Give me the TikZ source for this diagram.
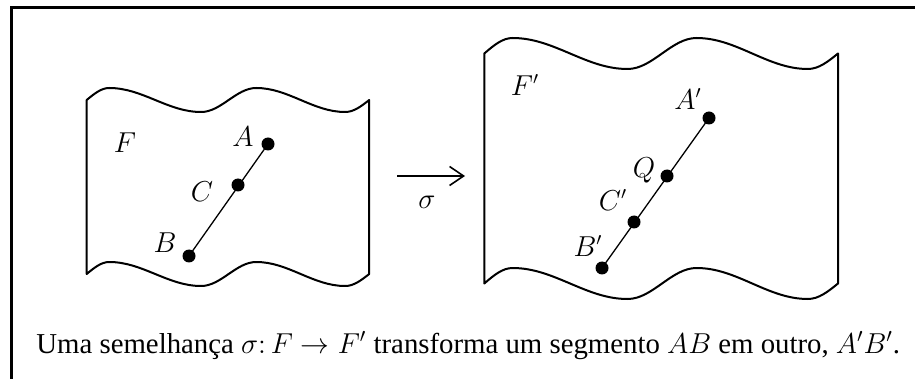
\documentclass[tikz,border=0pt]{standalone}
\usepackage{fontspec}
\setmainfont{Liberation Serif}
\usetikzlibrary{arrows.meta}

% wavy sheet: x0, width, y of top edge, y of bottom edge, amplitude
\newcommand\wavysheet[5]{%
  \draw[sheet] ({#1},{#3})
    sin ({#1+0.08*#2},{#3-#5}) cos ({#1+0.2425*#2},{#3})
    sin ({#1+0.405*#2},{#3+#5}) cos ({#1+0.5025*#2},{#3})
    sin ({#1+0.60*#2},{#3-#5}) cos ({#1+0.7575*#2},{#3})
    sin ({#1+0.915*#2},{#3+#5}) cos ({#1+#2},{#3})
    -- ({#1+#2},{#4})
    sin ({#1+0.915*#2},{#4+#5}) cos ({#1+0.7575*#2},{#4})
    sin ({#1+0.60*#2},{#4-#5}) cos ({#1+0.5025*#2},{#4})
    sin ({#1+0.405*#2},{#4+#5}) cos ({#1+0.2425*#2},{#4})
    sin ({#1+0.08*#2},{#4-#5}) cos ({#1},{#4})
    -- cycle;}

\begin{document}
\begin{tikzpicture}[
    x=0.5pt, y=-0.5pt,
    sheet/.style={line width=1pt, line join=round},
    dot/.style={circle, fill=black, inner sep=0pt, minimum size=6.5pt},
    lbl/.style={inner sep=0pt, font=\fontsize{13.5}{16}\selectfont},
    seg/.style={line width=0.65pt},
    arrow/.style={line width=0.8pt, -{Straight Barb[length=7pt,width=9.5pt]}},
  ]
  \useasboundingbox (0,0) rectangle (915,379);
  % frame
  \draw[line width=1.5pt] (11,379) -- (11,8) -- (915,8);

  % the figure F
  \wavysheet{86.7}{282.5}{100}{274}{12}
  \node[lbl] (lF) at (125,143) {$F$};
  \node[dot] (A) at (268,144) {};
  \node[dot] (C) at (238,185) {};
  \node[dot] (B) at (189,256) {};
  \draw[seg] (B.center) -- (A.center);
  \node[lbl] (lA) at (243,137) {$A$};
  \node[lbl] (lC) at (202,192) {$C$};
  \node[lbl] (lB) at (165,243) {$B$};

  % the map
  \coordinate (s0) at (397,176);
  \coordinate (s1) at (465,176);
  \draw[arrow] (s0) -- (s1);
  \node[lbl] (sigma) at (427,202) {$\sigma$};

  % the image F'
  \wavysheet{484.3}{353.7}{53.5}{283.5}{15.5}
  \node[lbl] (lF2) at (525,85) {$F'$};
  \node[dot] (A2) at (709,118) {};
  \node[dot] (Q) at (667,176) {};
  \node[dot] (C2) at (634,222) {};
  \node[dot] (B2) at (602,268) {};
  \draw[seg] (B2.center) -- (A2.center);
  \node[lbl] (lA2) at (688,99) {$A'$};
  \node[lbl] (lQ) at (644,170) {$Q$};
  \node[lbl] (lC2) at (613,200) {$C'$};
  \node[lbl] (lB2) at (588,246) {$B'$};

  % caption
  \node[anchor=base west, inner sep=0pt, font=\fontsize{14.4}{17}\selectfont] (cap) at (36,353)
    {Uma semelhança $\sigma\colon F \rightarrow F'$ transforma um segmento $AB$ em outro, $A'B'$.};
\end{tikzpicture}
\end{document}
